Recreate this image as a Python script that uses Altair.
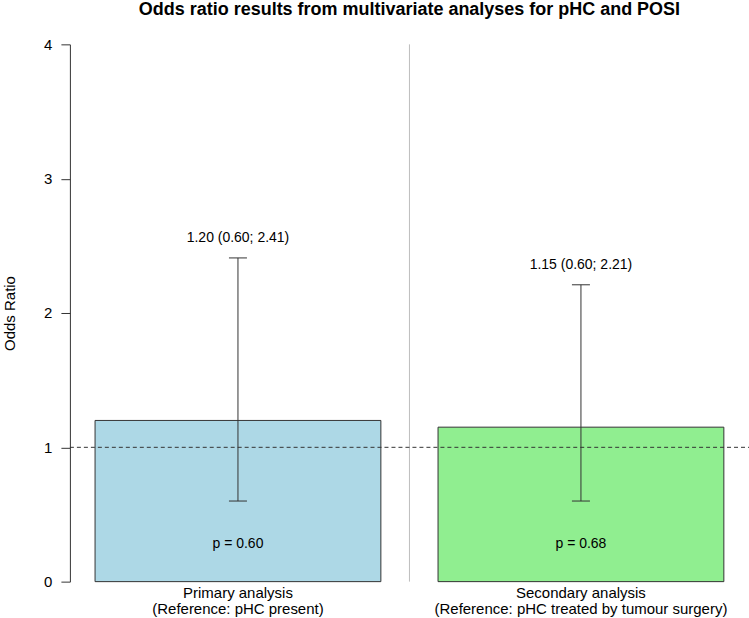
import altair as alt
import pandas as pd

# ---- data ----
analysis = ["Primary analysis", "Secondary analysis"]
reference = ["(Reference: pHC present)", "(Reference: pHC treated by tumour surgery)"]
odds_ratio = [1.20, 1.15]
ci_lower = [0.60, 0.60]
ci_upper = [2.41, 2.21]
p_values = [0.60, 0.68]
bar_colors = ["#ADD8E6", "#90EE90"]
y_ticks = [0, 1, 2, 3, 4]
title_text = "Odds ratio results from multivariate analyses for pHC and POSI"

FONT = "Liberation Sans"
INK = "#333333"

# barplot-like layout: width 1, space 0.2
rows = []
for i in range(len(analysis)):
    left = 0.2 + i * 1.2
    rows.append({
        "analysis": analysis[i],
        "reference": reference[i],
        "or": odds_ratio[i],
        "lo": ci_lower[i],
        "hi": ci_upper[i],
        "left": left,
        "right": left + 1.0,
        "mid": left + 0.5,
        "cap_l": left + 0.5 - 0.0315,
        "cap_r": left + 0.5 + 0.0315,
        "label": f"{odds_ratio[i]:.2f} ({ci_lower[i]:.2f}; {ci_upper[i]:.2f})",
        "plabel": f"p = {p_values[i]:.2f}",
        "color": bar_colors[i],
    })
df = pd.DataFrame(rows)

xmin, xmax = 0.112, 2.488
xs = alt.Scale(domain=[xmin, xmax], nice=False, zero=False)
ys = alt.Scale(domain=[0, 4], nice=False, zero=False)

yaxis = alt.Axis(values=y_ticks, format="d", grid=False, domainColor=INK,
                 tickColor=INK, tickSize=9, labelFontSize=15, labelFont=FONT,
                 labelColor="black", labelPadding=9, title="Odds Ratio",
                 titleFont=FONT, titleFontSize=15, titleFontWeight="normal",
                 titleColor="black", titleAngle=-90, titleX=-60, titleY=269,
                 titleAlign="center", titleBaseline="middle")


def X(f):
    return alt.X(f, scale=xs, axis=None)


def Y(f):
    return alt.Y(f, scale=ys, axis=yaxis)


base = alt.Chart(df)

bars = base.mark_rect(stroke=INK, strokeWidth=1).encode(
    x=X("left:Q"),
    x2="right:Q",
    y=Y("or:Q"),
    y2=alt.Y2(datum=0),
    color=alt.Color("color:N", scale=None),
)

sep = alt.Chart(pd.DataFrame({"x": [1.3], "y0": [0], "y1": [4]})).mark_rule(
    color="#BEBEBE", strokeWidth=1).encode(
    x=X("x:Q"), y=Y("y0:Q"), y2="y1:Q")

refline = alt.Chart(pd.DataFrame({"x0": [xmin], "x1": [xmax], "y": [1]})).mark_rule(
    color=INK, strokeWidth=1, strokeDash=[4, 3]).encode(
    x=X("x0:Q"), x2="x1:Q", y=Y("y:Q"))

whisker = base.mark_rule(color=INK, strokeWidth=1).encode(
    x=X("mid:Q"), y=Y("lo:Q"), y2="hi:Q")

cap_hi = base.mark_rule(color=INK, strokeWidth=1).encode(
    x=X("cap_l:Q"), x2="cap_r:Q", y=Y("hi:Q"))
cap_lo = base.mark_rule(color=INK, strokeWidth=1).encode(
    x=X("cap_l:Q"), x2="cap_r:Q", y=Y("lo:Q"))

ci_text = base.transform_calculate(ty="datum.hi + 0.15").mark_text(
    font=FONT, fontSize=14, color="black", baseline="middle", align="center").encode(
    x=X("mid:Q"), y=Y("ty:Q"), text="label:N")

p_text = base.transform_calculate(ty="0.28").mark_text(
    font=FONT, fontSize=14, color="black", baseline="middle", align="center").encode(
    x=X("mid:Q"), y=Y("ty:Q"), text="plabel:N")

xlab1 = base.mark_text(font=FONT, fontSize=15, color="black", baseline="middle",
                       align="center").encode(
    x=X("mid:Q"), y=alt.value(549), text="analysis:N")
xlab2 = base.mark_text(font=FONT, fontSize=15, color="black", baseline="middle",
                       align="center").encode(
    x=X("mid:Q"), y=alt.value(565), text="reference:N")

title = alt.Chart(pd.DataFrame({"t": [title_text], "x": [(xmin + xmax) / 2]})).mark_text(
    font=FONT, fontSize=18, fontWeight="bold", color="black", baseline="alphabetic",
    align="center").encode(x=X("x:Q"), y=alt.value(-29), text="t:N")

chart = alt.layer(bars, sep, refline, whisker, cap_hi, cap_lo, ci_text, p_text,
                  xlab1, xlab2, title).properties(
    width=680, height=538,
    background="white",
    autosize=alt.AutoSizeParams(type="none"),
    padding={"left": 70, "top": 44, "right": 0, "bottom": 36},
).configure_view(stroke=None).configure_axis(grid=False)

chart.save("out.html", embed_options={"renderer": "svg", "actions": False})
